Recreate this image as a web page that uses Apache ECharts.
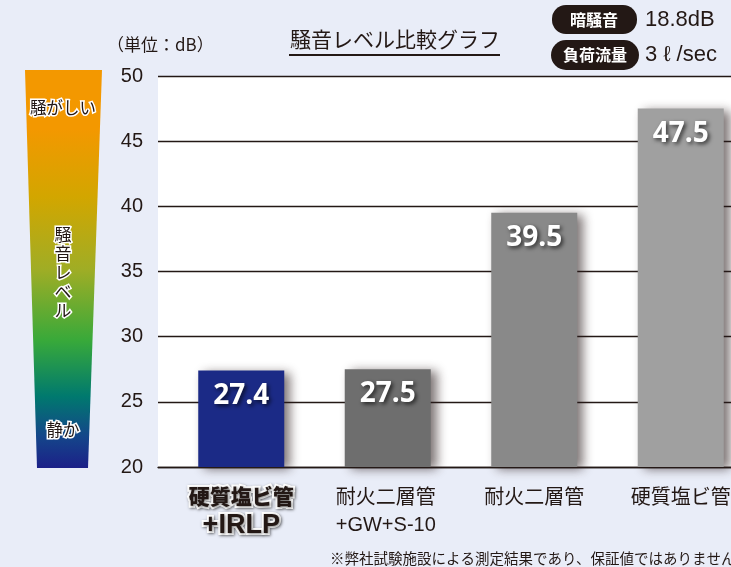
<!DOCTYPE html>
<html lang="ja">
<head>
  <meta charset="UTF-8">
  <title>騒音レベル比較グラフ</title>
  <style>
    html, body { margin: 0; padding: 0; background: #e9edf8; overflow: hidden; }
  </style>
</head>
<body>
  <!-- canvas is a bit wider than the window: the last bar is cut off like the original -->
  <div id="main" style="width: 754px;height:567px;"></div>

  <script src="https://cdn.jsdelivr.net/npm/echarts@6/dist/echarts.min.js"></script>
  <script>
    // data
    const categories = ['硬質塩ビ管\n+IRLP', '耐火二層管\n+GW+S-10', '耐火二層管', '硬質塩ビ管'];
    const noiseValues = [27.4, 27.5, 39.5, 47.5];
    const yMin = 20, yMax = 50, yStep = 5;
    const bgNoise = '18.8dB';
    const flowRate = '3 ℓ /sec';

    const barColors = ['#1b2a86', '#6e6e6e', '#898989', '#a0a0a0'];
    const ink = '#231815';
    const jp = '"Noto Sans CJK JP", sans-serif';
    const mixed = '"Liberation Sans", "Noto Sans CJK JP", sans-serif';

    const myChart = echarts.init(document.getElementById('main'));

    const emStyle = {
      fontFamily: mixed, fontWeight: 900, color: ink, lineHeight: 27,
      textBorderColor: '#fff', textBorderWidth: 4,
      textShadowColor: 'rgba(0,0,0,0.5)', textShadowBlur: 3, textShadowOffsetX: 1, textShadowOffsetY: 1
    };

    const options = {
      backgroundColor: '#e9edf8',
      animation: false,
      grid: [
        { left: 158, right: 0, top: 76, bottom: 100, show: true, backgroundColor: '#fff', borderWidth: 0 },
        { left: 168, right: 0, top: 76, bottom: 100 }
      ],
      xAxis: [
        {
          gridIndex: 0,
          type: 'category',
          data: categories,
          axisLine: { lineStyle: { color: ink, width: 1.4 } },
          axisTick: { show: false },
          axisLabel: { show: false }
        },
        {
          gridIndex: 1,
          type: 'category',
          data: categories,
          axisLine: { show: false },
          axisTick: { show: false },
          axisLabel: {
            interval: 0,
            hideOverlap: false,
            margin: 18,
            color: ink,
            fontFamily: mixed,
            fontSize: 20,
            lineHeight: 27,
            formatter: function (v, i) {
              const lines = v.split('\n');
              if (i === 0) return '{em|' + lines[0] + '}\n{em2|' + lines[1] + '}';
              if (lines.length > 1) return lines.map(s => '{blk|' + s + '}').join('\n');
              return v;
            },
            rich: {
              em: Object.assign({ fontSize: 21 }, emStyle),
              em2: Object.assign({ fontSize: 27 }, emStyle),
              blk: { fontFamily: mixed, fontSize: 20, color: ink, lineHeight: 27, width: 104, align: 'left' }
            }
          }
        }
      ],
      yAxis: [
        {
          gridIndex: 0,
          type: 'value',
          min: yMin,
          max: yMax,
          interval: yStep,
          axisLine: { show: false },
          axisTick: { show: false },
          axisLabel: { margin: 15, color: ink, fontSize: 20, fontFamily: '"Liberation Sans", Arial, sans-serif' },
          splitLine: { lineStyle: { color: ink, width: 1.3 } }
        },
        {
          gridIndex: 1,
          type: 'value',
          min: yMin,
          max: yMax,
          interval: yStep,
          show: false,
          splitLine: { show: false }
        }
      ],
      series: [{
        type: 'bar',
        xAxisIndex: 1,
        yAxisIndex: 1,
        barWidth: 86,
        data: noiseValues.map((v, i) => ({ value: v, itemStyle: { color: barColors[i] } })),
        itemStyle: {
          shadowColor: 'rgba(40,25,25,0.6)',
          shadowBlur: 10,
          shadowOffsetX: 6,
          shadowOffsetY: 2
        },
        label: {
          show: true,
          position: 'insideTop',
          distance: 11,
          color: '#fff',
          fontSize: 28,
          fontWeight: 'bold',
          fontFamily: '"Open Sans", sans-serif',
          textShadowColor: 'rgba(0,0,0,0.7)',
          textShadowBlur: 4,
          textShadowOffsetX: 2,
          textShadowOffsetY: 2
        }
      }],
      graphic: [
        // noise level scale on the left
        {
          type: 'polygon',
          shape: { points: [[25, 70], [102, 70], [88, 468], [37, 468]] },
          style: {
            fill: new echarts.graphic.LinearGradient(0, 0, 0, 1, [
              { offset: 0, color: '#f39800' },
              { offset: 0.15, color: '#f39800' },
              { offset: 0.32, color: '#d2a600' },
              { offset: 0.5, color: '#a0ad25' },
              { offset: 0.68, color: '#38a93a' },
              { offset: 0.82, color: '#00796e' },
              { offset: 0.92, color: '#14468a' },
              { offset: 1, color: '#1c2088' }
            ])
          }
        },
        {
          type: 'text', x: 63, y: 108,
          style: { text: '騒がしい', font: '16.5px ' + jp, fill: ink, stroke: '#fff', lineWidth: 3, align: 'center', verticalAlign: 'middle' }
        },
        {
          type: 'text', x: 63, y: 273,
          style: { text: '騒\n音\nレ\nベ\nル', font: '17px ' + jp, lineHeight: 19, fill: ink, stroke: '#fff', lineWidth: 3, align: 'center', verticalAlign: 'middle' }
        },
        {
          type: 'text', x: 63, y: 430,
          style: { text: '静か', font: '16.5px ' + jp, fill: ink, stroke: '#fff', lineWidth: 3, align: 'center', verticalAlign: 'middle' }
        },
        // unit & title
        {
          type: 'text', x: 107, y: 45,
          style: { text: '（単位：dB）', font: '17px ' + jp, fill: ink, verticalAlign: 'middle' }
        },
        {
          type: 'text', x: 395, y: 39,
          style: { text: '騒音レベル比較グラフ', font: '21px ' + jp, fill: ink, align: 'center', verticalAlign: 'middle' }
        },
        {
          type: 'line',
          shape: { x1: 289, y1: 55, x2: 500, y2: 55 },
          style: { stroke: ink, lineWidth: 2 }
        },
        // test conditions
        {
          type: 'rect',
          shape: { x: 552, y: 5, width: 85, height: 29, r: 14 },
          style: { fill: ink }
        },
        {
          type: 'text', x: 594, y: 20,
          style: { text: '暗騒音', font: 'bold 16px ' + jp, fill: '#fff', align: 'center', verticalAlign: 'middle' }
        },
        {
          type: 'text', x: 645, y: 20,
          style: { text: bgNoise, font: '22px "Liberation Sans", Arial, sans-serif', fill: ink, verticalAlign: 'middle' }
        },
        {
          type: 'rect',
          shape: { x: 551, y: 40, width: 88, height: 30, r: 15 },
          style: { fill: ink }
        },
        {
          type: 'text', x: 595, y: 55,
          style: { text: '負荷流量', font: 'bold 16px ' + jp, fill: '#fff', align: 'center', verticalAlign: 'middle' }
        },
        {
          type: 'text', x: 645, y: 55,
          style: { text: flowRate, font: '22px "Liberation Sans", Arial, sans-serif', fill: ink, verticalAlign: 'middle' }
        },
        // footnote
        {
          type: 'text', x: 330, y: 558,
          style: { text: '※弊社試験施設による測定結果であり、保証値ではありません。', font: '14.5px ' + jp, fill: ink, verticalAlign: 'middle' }
        }
      ]
    };

    myChart.setOption(options);
  </script>
</body>
</html>
